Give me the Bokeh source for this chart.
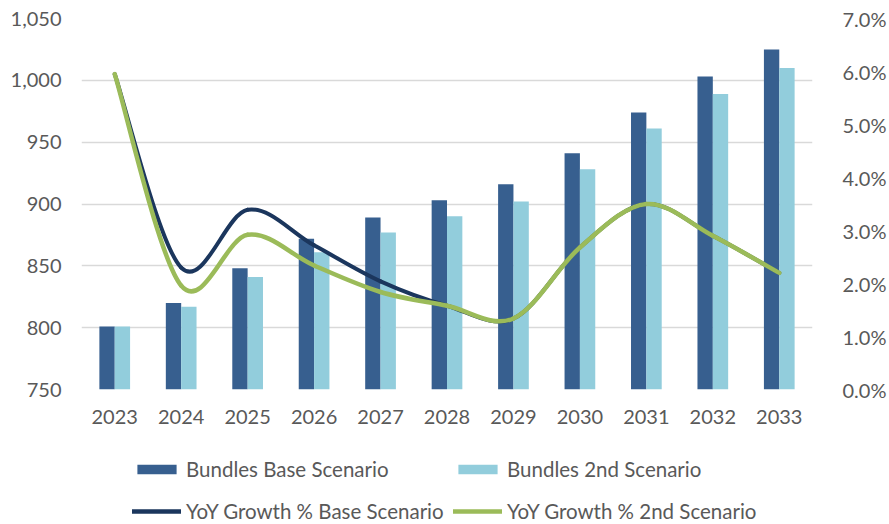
from bokeh.plotting import figure
from bokeh.layouts import column
from bokeh.models import (Range1d, LinearAxis, NumeralTickFormatter, FixedTicker,
                          Legend, LegendItem, ColumnDataSource)
from bokeh.transform import dodge
from bokeh.embed import file_html
from bokeh.resources import INLINE

years = [2023, 2024, 2025, 2026, 2027, 2028, 2029, 2030, 2031, 2032, 2033]
bundles_base = [801, 820, 848, 872, 889, 903, 916, 941, 974, 1003, 1025]
bundles_2nd = [801, 817, 841, 861, 877, 890, 902, 928, 961, 989, 1010]
yoy_base = [0.0595, 0.0230, 0.0339, 0.0272, 0.0204, 0.0158, 0.0134, 0.0268, 0.0350, 0.0290, 0.0220]
yoy_2nd = [0.0595, 0.0196, 0.0292, 0.0234, 0.0184, 0.0158, 0.0134, 0.0268, 0.0350, 0.0290, 0.0220]
left_ticks = [750, 800, 850, 900, 950, 1000, 1050]
right_ticks = [0.0, 0.01, 0.02, 0.03, 0.04, 0.05, 0.06, 0.07]
series_names = ["Bundles Base Scenario", "Bundles 2nd Scenario",
                "YoY Growth % Base Scenario", "YoY Growth % 2nd Scenario"]

FONT = "Lato"
TXT = "#595959"
C_BASE_BAR = "#375F8F"
C_2ND_BAR = "#92CDDC"
C_BASE_LINE = "#1B365D"
C_2ND_LINE = "#9BBB59"


def smooth_segments(xs, ys):
    """Catmull-Rom style bezier segments through the data points (Excel smoothed line)."""
    n = len(xs)
    seg = dict(x0=[], y0=[], x1=[], y1=[], cx0=[], cy0=[], cx1=[], cy1=[])
    for i in range(n - 1):
        p0 = (xs[max(i - 1, 0)], ys[max(i - 1, 0)])
        p1 = (xs[i], ys[i])
        p2 = (xs[i + 1], ys[i + 1])
        p3 = (xs[min(i + 2, n - 1)], ys[min(i + 2, n - 1)])
        seg["x0"].append(p1[0]); seg["y0"].append(p1[1])
        seg["x1"].append(p2[0]); seg["y1"].append(p2[1])
        seg["cx0"].append(p1[0] + (p2[0] - p0[0]) / 6.0)
        seg["cy0"].append(p1[1] + (p2[1] - p0[1]) / 6.0)
        seg["cx1"].append(p2[0] - (p3[0] - p1[0]) / 6.0)
        seg["cy1"].append(p2[1] - (p3[1] - p1[1]) / 6.0)
    return ColumnDataSource(seg)


p = figure(width=889, height=430, output_backend="svg", toolbar_location=None,
           x_range=Range1d(2022.5, 2033.5), y_range=Range1d(750, 1050),
           min_border_left=81, min_border_right=70, min_border_top=18, min_border_bottom=41)
p.outline_line_color = None
p.background_fill_color = "white"
p.border_fill_color = "white"

p.extra_y_ranges = {"pct": Range1d(0, 0.07)}

bar_src = ColumnDataSource(dict(year=years, base=bundles_base, second=bundles_2nd))
p.vbar(x=dodge("year", -0.1155, range=p.x_range), top="base", bottom=750, width=0.231,
       source=bar_src, fill_color=C_BASE_BAR, line_color=None)
p.vbar(x=dodge("year", 0.1155, range=p.x_range), top="second", bottom=750, width=0.231,
       source=bar_src, fill_color=C_2ND_BAR, line_color=None)

s1 = smooth_segments(years, yoy_base)
s2 = smooth_segments(years, yoy_2nd)
p.bezier(x0="x0", y0="y0", x1="x1", y1="y1", cx0="cx0", cy0="cy0", cx1="cx1", cy1="cy1",
         source=s1, line_color=C_BASE_LINE, line_width=4, line_cap="round", y_range_name="pct")
p.bezier(x0="x0", y0="y0", x1="x1", y1="y1", cx0="cx0", cy0="cy0", cx1="cx1", cy1="cy1",
         source=s2, line_color=C_2ND_LINE, line_width=4.5, line_cap="round", y_range_name="pct")

# axes
p.xaxis.ticker = FixedTicker(ticks=years)
p.xaxis.formatter = NumeralTickFormatter(format="0")
p.yaxis.ticker = FixedTicker(ticks=left_ticks)
p.yaxis.formatter = NumeralTickFormatter(format="0,0")

ax_r = LinearAxis(y_range_name="pct", ticker=FixedTicker(ticks=right_ticks),
                  formatter=NumeralTickFormatter(format="0.0%"))
p.add_layout(ax_r, "right")

for ax in [p.xaxis[0], p.yaxis[0], ax_r]:
    ax.axis_line_color = None
    ax.major_tick_line_color = None
    ax.minor_tick_line_color = None
    ax.major_label_text_font = FONT
    ax.major_label_text_font_size = "20px"
    ax.major_label_text_color = TXT
p.xaxis.major_label_standoff = 14
p.yaxis[0].major_label_standoff = 14
ax_r.major_label_standoff = 24

p.xgrid.grid_line_color = None
p.ygrid.grid_line_color = "#D9D9D9"
p.ygrid.grid_line_width = 1.5
p.ygrid.ticker = FixedTicker(ticks=left_ticks)

# legend figure below the chart (its frame is aligned with the chart's frame by the column)
lp = figure(width=889, height=94, output_backend="svg", toolbar_location=None,
            x_range=Range1d(2022.5, 2033.5), y_range=Range1d(1100, 2100),
            x_axis_location=None, y_axis_location=None,
            min_border_left=81, min_border_right=70, min_border_top=0, min_border_bottom=0)
lp.outline_line_color = None
lp.grid.grid_line_color = None
lp.background_fill_color = "white"

# legend proxies: same series, falling below this strip's view so only legend glyphs show
pr_b1 = lp.vbar(x="year", top="base", bottom=750, width=0.231, source=bar_src,
                fill_color=C_BASE_BAR, line_color=None)
pr_b2 = lp.vbar(x="year", top="second", bottom=750, width=0.231, source=bar_src,
                fill_color=C_2ND_BAR, line_color=None)
pr_l1 = lp.line(x=years, y=yoy_base, line_color=C_BASE_LINE, line_width=4.5, line_cap="round")
pr_l2 = lp.line(x=years, y=yoy_2nd, line_color=C_2ND_LINE, line_width=4.5, line_cap="round")


def make_legend(items, y):
    lg = Legend(items=items, location=(51, y), orientation="horizontal",
                glyph_width=49, glyph_height=12, label_standoff=5, label_width=263,
                label_height=26, spacing=4, padding=0, margin=0,
                border_line_color=None, background_fill_alpha=0,
                label_text_font=FONT, label_text_font_size="20.5px",
                label_text_color=TXT)
    lp.add_layout(lg, "center")


make_legend([LegendItem(label=series_names[0], renderers=[pr_b1]),
             LegendItem(label=series_names[1], renderers=[pr_b2])], 42)
make_legend([LegendItem(label=series_names[2], renderers=[pr_l1]),
             LegendItem(label=series_names[3], renderers=[pr_l2])], 0)

layout = column(p, lp, spacing=0)
open("out.html", "w").write(file_html(layout, INLINE))
